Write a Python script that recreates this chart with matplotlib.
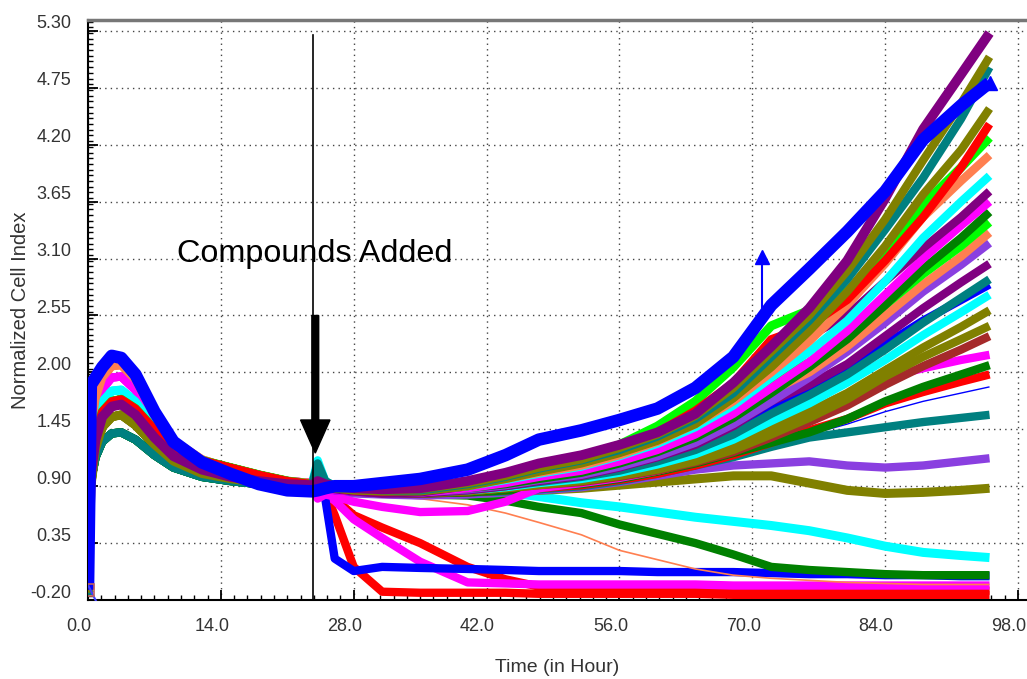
import matplotlib
matplotlib.use('Agg')
import matplotlib.pyplot as plt
from matplotlib.ticker import MultipleLocator
from matplotlib.patches import FancyArrow
import matplotlib.transforms as mtransforms

plt.rcParams['font.family'] = ['Liberation Sans', 'DejaVu Sans']

# ---------------- data ----------------
pre_t = [0, 0.3, 0.8, 1.5, 2.5, 3.5, 5, 7, 9, 12, 15, 18, 21, 23.6]
post_t = [24.2, 25, 26, 28, 31, 35, 40, 44, 47.5, 52, 56, 60, 64, 68, 72, 76, 80, 84, 88, 92, 95]

pre_blue    = [-0.10, 1.88, 1.95, 2.05, 2.16, 2.14, 1.98, 1.62, 1.33, 1.13, 1.02, 0.92, 0.86, 0.85]
pre_salmon  = [-0.10, 1.45, 1.75, 1.95, 2.06, 2.07, 1.93, 1.58, 1.34, 1.16, 1.07, 1.00, 0.95, 0.93]
pre_magenta = [-0.12, 1.30, 1.60, 1.84, 1.95, 1.96, 1.83, 1.54, 1.32, 1.15, 1.07, 1.00, 0.95, 0.93]
pre_cyan    = [-0.12, 1.20, 1.50, 1.72, 1.82, 1.83, 1.72, 1.47, 1.27, 1.12, 1.04, 0.98, 0.94, 0.92]
pre_red     = [-0.10, 1.05, 1.40, 1.62, 1.72, 1.74, 1.65, 1.45, 1.28, 1.15, 1.08, 1.01, 0.95, 0.92]
pre_purple  = [-0.10, 1.00, 1.35, 1.57, 1.67, 1.69, 1.59, 1.37, 1.19, 1.06, 0.99, 0.95, 0.92, 0.91]
pre_olive   = [-0.13, 0.90, 1.25, 1.47, 1.57, 1.59, 1.49, 1.30, 1.14, 1.02, 0.97, 0.93, 0.91, 0.90]
pre_teal    = [-0.15, 0.95, 1.18, 1.33, 1.41, 1.42, 1.35, 1.20, 1.08, 0.99, 0.95, 0.92, 0.91, 0.91]

post_purple_top = [0.95, 0.92, 0.90, 0.88, 0.87, 0.88, 0.95, 1.03, 1.12, 1.20, 1.30, 1.42, 1.60, 1.90, 2.25, 2.62, 3.08, 3.68, 4.35, 4.88, 5.28]
post_olive_505  = [0.92, 0.90, 0.88, 0.87, 0.86, 0.87, 0.93, 1.00, 1.08, 1.16, 1.27, 1.40, 1.58, 1.85, 2.20, 2.55, 2.98, 3.48, 4.05, 4.60, 5.05]
post_teal_495   = [1.12, 0.95, 0.90, 0.88, 0.86, 0.86, 0.92, 0.99, 1.07, 1.15, 1.25, 1.38, 1.55, 1.80, 2.15, 2.50, 2.90, 3.38, 3.88, 4.45, 4.95]
post_blue_top   = [0.86, 0.88, 0.90, 0.90, 0.93, 0.97, 1.06, 1.20, 1.35, 1.44, 1.54, 1.65, 1.85, 2.15, 2.65, 3.00, 3.36, 3.75, 4.25, 4.58, 4.80]
post_olive_455  = [0.90, 0.89, 0.88, 0.86, 0.85, 0.85, 0.90, 0.97, 1.04, 1.12, 1.22, 1.34, 1.50, 1.75, 2.05, 2.40, 2.78, 3.22, 3.72, 4.15, 4.55]
post_red_440    = [0.93, 0.90, 0.88, 0.86, 0.85, 0.86, 0.92, 0.99, 1.07, 1.15, 1.27, 1.42, 1.63, 1.90, 2.32, 2.45, 2.70, 3.08, 3.50, 3.98, 4.40]
post_lime_427   = [0.92, 0.90, 0.89, 0.87, 0.86, 0.86, 0.92, 0.99, 1.08, 1.17, 1.30, 1.48, 1.72, 2.05, 2.45, 2.60, 2.78, 3.15, 3.62, 3.98, 4.27]
post_salmon_410 = [0.94, 0.92, 0.90, 0.88, 0.87, 0.87, 0.91, 0.97, 1.03, 1.10, 1.20, 1.33, 1.50, 1.72, 2.00, 2.30, 2.65, 3.05, 3.50, 3.85, 4.10]
post_cyan_390   = [1.15, 0.95, 0.90, 0.87, 0.86, 0.86, 0.90, 0.96, 1.02, 1.09, 1.19, 1.31, 1.47, 1.68, 1.95, 2.20, 2.50, 2.88, 3.30, 3.65, 3.90]
post_purple_375 = [0.90, 0.88, 0.87, 0.85, 0.83, 0.84, 0.90, 0.97, 1.05, 1.13, 1.25, 1.40, 1.60, 1.85, 2.22, 2.35, 2.55, 2.88, 3.20, 3.50, 3.75]
post_magenta_365 = [0.80, 0.85, 0.86, 0.85, 0.84, 0.84, 0.88, 0.93, 0.99, 1.05, 1.14, 1.25, 1.40, 1.60, 1.85, 2.10, 2.40, 2.75, 3.10, 3.42, 3.65]
post_dkgreen_355 = [0.90, 0.88, 0.87, 0.86, 0.85, 0.85, 0.88, 0.92, 0.97, 1.03, 1.12, 1.23, 1.37, 1.56, 1.80, 2.05, 2.32, 2.65, 3.00, 3.30, 3.55]
post_lime_345   = [0.90, 0.88, 0.87, 0.86, 0.85, 0.85, 0.89, 0.94, 1.00, 1.06, 1.15, 1.27, 1.42, 1.62, 1.90, 2.10, 2.35, 2.65, 2.95, 3.22, 3.45]
post_salmon_335 = [0.93, 0.90, 0.88, 0.86, 0.85, 0.85, 0.89, 0.94, 1.00, 1.06, 1.15, 1.26, 1.40, 1.58, 1.82, 2.00, 2.25, 2.55, 2.85, 3.12, 3.35]
post_violet_325 = [0.90, 0.88, 0.87, 0.85, 0.84, 0.84, 0.87, 0.91, 0.96, 1.01, 1.09, 1.19, 1.32, 1.50, 1.72, 1.95, 2.20, 2.48, 2.78, 3.04, 3.25]
post_purple_305 = [0.90, 0.88, 0.87, 0.85, 0.83, 0.83, 0.86, 0.90, 0.95, 1.00, 1.08, 1.18, 1.30, 1.48, 1.72, 1.88, 2.08, 2.35, 2.62, 2.87, 3.05]
post_teal_290   = [1.10, 0.93, 0.89, 0.86, 0.84, 0.84, 0.86, 0.90, 0.94, 0.99, 1.05, 1.14, 1.25, 1.40, 1.60, 1.78, 1.98, 2.22, 2.48, 2.72, 2.90]
post_blue_285   = [0.88, 0.87, 0.86, 0.85, 0.84, 0.84, 0.87, 0.91, 0.96, 1.01, 1.08, 1.17, 1.29, 1.45, 1.66, 1.84, 2.03, 2.27, 2.50, 2.70, 2.85]
post_cyan_275   = [1.00, 0.90, 0.88, 0.86, 0.85, 0.84, 0.86, 0.89, 0.93, 0.97, 1.03, 1.11, 1.21, 1.35, 1.53, 1.70, 1.90, 2.12, 2.36, 2.58, 2.75]
post_olive_260  = [0.90, 0.88, 0.87, 0.85, 0.84, 0.84, 0.86, 0.89, 0.92, 0.96, 1.02, 1.09, 1.18, 1.30, 1.46, 1.62, 1.80, 2.02, 2.24, 2.44, 2.60]
post_olive_245  = [0.90, 0.88, 0.87, 0.85, 0.84, 0.83, 0.85, 0.88, 0.91, 0.95, 1.00, 1.06, 1.14, 1.25, 1.40, 1.56, 1.74, 1.96, 2.15, 2.32, 2.45]
post_brown_235  = [0.90, 0.88, 0.87, 0.85, 0.84, 0.83, 0.85, 0.88, 0.91, 0.94, 0.99, 1.05, 1.13, 1.23, 1.37, 1.52, 1.68, 1.88, 2.06, 2.22, 2.35]
post_magenta_217 = [0.78, 0.82, 0.80, 0.75, 0.70, 0.65, 0.66, 0.75, 0.88, 0.93, 0.98, 1.05, 1.14, 1.26, 1.42, 1.58, 1.75, 1.95, 2.04, 2.12, 2.17]
post_dkgreen_207 = [0.90, 0.88, 0.87, 0.85, 0.84, 0.83, 0.84, 0.86, 0.89, 0.92, 0.97, 1.04, 1.12, 1.22, 1.32, 1.42, 1.55, 1.72, 1.86, 1.98, 2.07]
post_red_198    = [0.92, 0.89, 0.87, 0.85, 0.84, 0.83, 0.84, 0.86, 0.88, 0.91, 0.96, 1.02, 1.10, 1.20, 1.32, 1.44, 1.55, 1.70, 1.81, 1.91, 1.98]
post_blue_thin  = [0.90, 0.88, 0.87, 0.85, 0.84, 0.83, 0.84, 0.86, 0.88, 0.91, 0.95, 1.00, 1.07, 1.17, 1.30, 1.40, 1.50, 1.62, 1.72, 1.80, 1.86]
post_teal_159   = [0.92, 0.89, 0.87, 0.85, 0.84, 0.83, 0.84, 0.85, 0.87, 0.90, 0.95, 1.02, 1.10, 1.18, 1.28, 1.37, 1.42, 1.47, 1.52, 1.56, 1.59]
post_violet_117 = [0.88, 0.86, 0.85, 0.83, 0.82, 0.81, 0.82, 0.84, 0.86, 0.89, 0.94, 1.00, 1.06, 1.10, 1.12, 1.14, 1.10, 1.08, 1.10, 1.14, 1.17]
post_olive_088  = [0.88, 0.86, 0.85, 0.84, 0.83, 0.82, 0.83, 0.84, 0.86, 0.88, 0.91, 0.94, 0.97, 1.00, 1.00, 0.93, 0.86, 0.83, 0.84, 0.86, 0.88]
post_cyan_down  = [0.90, 0.88, 0.86, 0.84, 0.83, 0.82, 0.83, 0.84, 0.80, 0.74, 0.70, 0.65, 0.60, 0.56, 0.52, 0.47, 0.40, 0.32, 0.26, 0.23, 0.21]
post_dkgreen_down = [0.90, 0.88, 0.86, 0.84, 0.83, 0.82, 0.81, 0.76, 0.70, 0.64, 0.53, 0.44, 0.35, 0.24, 0.12, 0.09, 0.07, 0.05, 0.04, 0.04, 0.04]
post_salmon_down = [0.88, 0.86, 0.84, 0.82, 0.80, 0.78, 0.72, 0.64, 0.55, 0.43, 0.28, 0.19, 0.10, 0.04, 0.01, -0.01, -0.03, -0.04, -0.05, -0.05, -0.05]
post_blue_low   = [0.88, 0.78, 0.20, 0.08, 0.12, 0.11, 0.10, 0.09, 0.08, 0.08, 0.08, 0.07, 0.07, 0.07, 0.06, 0.05, 0.05, 0.04, 0.04, 0.03, 0.03]
post_magenta_low = [0.85, 0.82, 0.76, 0.58, 0.40, 0.17, -0.03, -0.04, -0.05, -0.05, -0.05, -0.05, -0.05, -0.06, -0.06, -0.06, -0.06, -0.06, -0.06, -0.06, -0.06]
post_red_grad   = [0.88, 0.84, 0.78, 0.62, 0.50, 0.35, 0.12, 0.00, -0.07, -0.09, -0.10, -0.10, -0.10, -0.10, -0.11, -0.11, -0.11, -0.11, -0.11, -0.11, -0.11]
post_red_fast   = [0.90, 0.84, 0.62, 0.12, -0.12, -0.13, -0.13, -0.13, -0.14, -0.14, -0.14, -0.14, -0.14, -0.15, -0.15, -0.15, -0.15, -0.15, -0.15, -0.15, -0.15]

spike_t = [71.0, 71.0]
spike_v = [2.55, 3.12]

x_ticks = [0, 14, 28, 42, 56, 70, 84, 98]
x_labels = ['0.0', '14.0', '28.0', '42.0', '56.0', '70.0', '84.0', '98.0']
y_ticks = [-0.20, 0.35, 0.90, 1.45, 2.00, 2.55, 3.10, 3.65, 4.20, 4.75, 5.30]
y_labels = ['-0.20', '0.35', '0.90', '1.45', '2.00', '2.55', '3.10', '3.65', '4.20', '4.75', '5.30']

compound_time = 23.7

BLUE, RED, LIME, MAG, CYAN = '#0000FF', '#FF0000', '#00FF00', '#FF00FF', '#00FFFF'
PURP, OLIVE, TEAL, DKG = '#800080', '#808000', '#008080', '#008000'
SALM, VIOL, BROWN = '#FF7F50', '#8A3FE0', '#A52A2A'

# (pre group, post values, color, linewidth) - drawn in this order
series = [
    (pre_red, post_red_fast, RED, 6),
    (pre_red, post_red_grad, RED, 6),
    (pre_magenta, post_magenta_low, MAG, 6),
    (pre_blue, post_blue_low, BLUE, 6),
    (pre_salmon, post_salmon_down, SALM, 1.2),
    (pre_teal, post_dkgreen_down, DKG, 6),
    (pre_cyan, post_cyan_down, CYAN, 6.5),
    (pre_olive, post_olive_088, OLIVE, 6.5),
    (pre_purple, post_violet_117, VIOL, 6),
    (pre_teal, post_teal_159, TEAL, 6),
    (pre_blue, post_blue_thin, BLUE, 1.0),
    (pre_red, post_red_198, RED, 6),
    (pre_teal, post_dkgreen_207, DKG, 6),
    (pre_magenta, post_magenta_217, MAG, 6),
    (pre_red, post_brown_235, BROWN, 6),
    (pre_olive, post_olive_245, OLIVE, 6),
    (pre_olive, post_olive_260, OLIVE, 6),
    (pre_cyan, post_cyan_275, CYAN, 6),
    (pre_blue, post_blue_285, BLUE, 6),
    (pre_teal, post_teal_290, TEAL, 6),
    (pre_purple, post_purple_305, PURP, 6),
    (pre_purple, post_violet_325, VIOL, 6),
    (pre_salmon, post_salmon_335, SALM, 6),
    (pre_red, post_lime_345, LIME, 6),
    (pre_teal, post_dkgreen_355, DKG, 6),
    (pre_magenta, post_magenta_365, MAG, 6),
    (pre_purple, post_purple_375, PURP, 6),
    (pre_cyan, post_cyan_390, CYAN, 6),
    (pre_salmon, post_salmon_410, SALM, 6),
    (pre_red, post_lime_427, LIME, 6.5),
    (pre_red, post_red_440, RED, 6),
    (pre_olive, post_olive_455, OLIVE, 6),
    (pre_teal, post_teal_495, TEAL, 6),
    (pre_olive, post_olive_505, OLIVE, 6),
    (pre_purple, post_purple_top, PURP, 7),
    (pre_blue, post_blue_top, BLUE, 9),
]

# ---------------- figure ----------------
fig = plt.figure(figsize=(10.27, 6.79), dpi=100)
ax = fig.add_axes([88 / 1027, 79 / 679, 939 / 1027, 580 / 679])

for pre, post, col, lw in series:
    ax.plot(pre_t + post_t, pre + post, color=col, lw=lw, solid_joinstyle='round',
            solid_capstyle='butt', zorder=3)

# start markers at time zero
ax.plot([pre_t[0]], [pre_blue[0] - 0.05], marker='^', ms=14, mfc='none', mec='#4040FF',
        mew=1.5, zorder=5)
ax.plot([pre_t[0]], [pre_red[0]], marker='s', ms=8, mfc='none', mec='#C06060', mew=1.2, zorder=5)
# end marker of the top blue curve
ax.plot([post_t[-1]], [post_blue_top[-1]], marker='^', ms=10, color=BLUE, zorder=5)

# blue spike
ax.plot(spike_t, spike_v, color=BLUE, lw=1.5, zorder=4)
ax.plot([spike_t[1]], [spike_v[1]], marker='^', ms=10, color=BLUE, zorder=4)

# compound addition line and arrow
ax.plot([compound_time, compound_time], [-0.2, 5.26], color='black', lw=1.2, zorder=6)
ax.add_patch(FancyArrow(23.95, 2.55, 0, -1.33, width=0.72, head_width=3.1, head_length=0.32,
                        length_includes_head=True, color='black', zorder=7))
ax.text(9.4, 3.07, 'Compounds Added', fontsize=23.3, color='black', ha='left',
        va='baseline', zorder=8)

# axes styling
ax.set_xlim(0, 98.95)
ax.set_ylim(-0.2, 5.406)
ax.set_xticks(x_ticks)
ax.set_xticklabels(x_labels)
ax.set_yticks(y_ticks)
ax.set_yticklabels(y_labels)
ax.xaxis.set_minor_locator(MultipleLocator(1.4))
ax.yaxis.set_minor_locator(MultipleLocator(0.055))
ax.tick_params(which='major', direction='in', length=7, width=1.3, color='black',
               labelcolor='#333333', labelsize=13)
ax.tick_params(which='minor', direction='in', length=3.5, width=1.0, color='black')
ax.tick_params(axis='x', which='major', pad=13)
ax.tick_params(axis='y', which='major', pad=12)
ax.tick_params(top=False, right=False, which='both')

ax.grid(True, which='major', linestyle=(0, (1, 3)), color='#444444', linewidth=1.0)
ax.set_axisbelow(True)

for s in ['left', 'bottom']:
    ax.spines[s].set_linewidth(1.5)
    ax.spines[s].set_color('black')
ax.spines['top'].set_linewidth(2.5)
ax.spines['top'].set_color('#777777')
ax.spines['right'].set_visible(False)

ax.set_xlabel('Time (in Hour)', fontsize=14, color='#333333', labelpad=17)
ax.set_ylabel('Normalized Cell Index', fontsize=14.5, color='#333333', labelpad=0)

# tick labels of this instrument software sit slightly left / up of their ticks
off_x = mtransforms.ScaledTranslation(-9 / 100, 0, fig.dpi_scale_trans)
off_y = mtransforms.ScaledTranslation(0, 9 / 100, fig.dpi_scale_trans)
for lbl in ax.get_xticklabels():
    lbl.set_transform(lbl.get_transform() + off_x)
for lbl in ax.get_yticklabels():
    lbl.set_transform(lbl.get_transform() + off_y)

fig.savefig('out.png', dpi=100)
